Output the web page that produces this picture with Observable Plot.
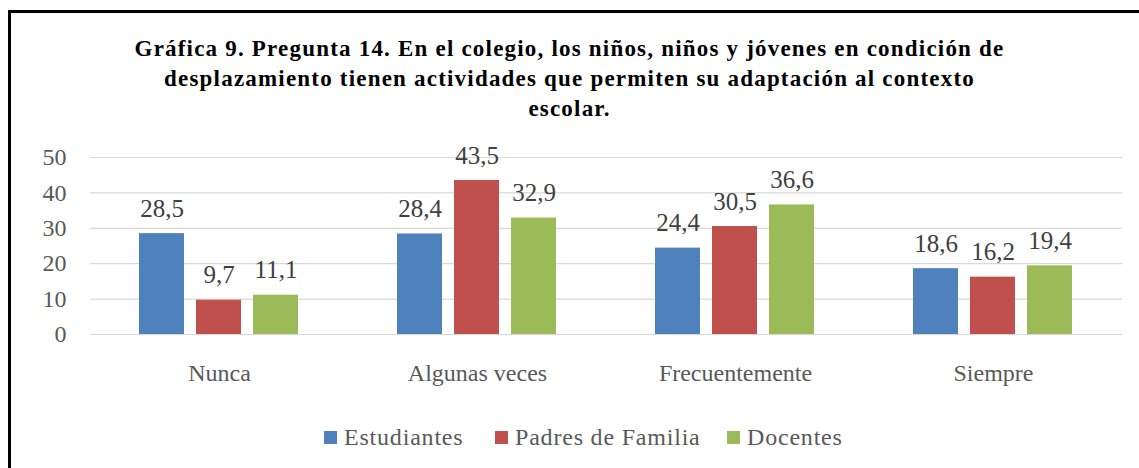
<!DOCTYPE html>
<html>
<head>
<meta charset="utf-8">
<script src="https://cdn.jsdelivr.net/npm/d3@7"></script>
<script src="https://cdn.jsdelivr.net/npm/@observablehq/plot@0.6"></script>
<style>
  html, body { margin: 0; padding: 0; background: #fff; }
  #wrap { position: relative; width: 1139px; height: 468px; overflow: hidden; background: #fff; }
  #wrap, #wrap div, #wrap span { font-family: "Liberation Serif", "Times New Roman", serif; }
  #frame { position: absolute; left: 8px; top: 10px; width: 1200px; height: 600px; border: 3px solid #000; box-sizing: border-box; }
  #title { position: absolute; left: 0; width: 1139px; top: 34px; text-align: center; font-weight: bold; font-size: 23px; line-height: 30px; letter-spacing: 1.2px; color: #000; }
  #chart { position: absolute; left: 0; top: 130px; }
  #legend { position: absolute; top: 424px; left: 0; width: 1139px; height: 26px; font-size: 24px; letter-spacing: 0.8px; color: #595959; }
  .item { position: absolute; top: 0; display: flex; align-items: center; height: 26px; white-space: nowrap; }
  .sw { width: 13px; height: 13px; margin-right: 7px; }
</style>
</head>
<body>
<div id="wrap">
  <div id="frame"></div>
  <div id="title">Gráfica 9. Pregunta 14. En el colegio, los niños, niños y jóvenes en condición de<br>desplazamiento tienen actividades que permiten su adaptación al contexto<br>escolar.</div>
  <div id="chart"></div>
  <div id="legend"></div>
</div>
<script>
const categories = ["Nunca", "Algunas veces", "Frecuentemente", "Siempre"];
const series = ["Estudiantes", "Padres de Familia", "Docentes"];
const estudiantes = [28.5, 28.4, 24.4, 18.6];
const padres = [9.7, 43.5, 30.5, 16.2];
const docentes = [11.1, 32.9, 36.6, 19.4];
const yTicks = [0, 10, 20, 30, 40, 50];
const colors = ["#4F81BD", "#C0504D", "#9BBB59"];

const seriesValues = [estudiantes, padres, docentes];
const data = [];
categories.forEach((c, i) => {
  series.forEach((s, j) => data.push({category: c, series: s, value: seriesValues[j][i]}));
});
const fmt = v => v.toFixed(1).replace(".", ",");

const plot = Plot.plot({
  width: 1139,
  height: 280,
  marginTop: 27,
  marginBottom: 76,
  marginLeft: 89,
  marginRight: 17,
  style: {fontFamily: "'Liberation Serif', 'Times New Roman', serif", fontSize: "24px", background: "transparent"},
  fx: {domain: categories, padding: 0, label: null},
  x: {domain: series, paddingInner: 0.21, paddingOuter: 0.868, axis: null},
  y: {domain: [0, 50], label: null},
  color: {domain: series, range: colors},
  marks: [
    Plot.gridY(yTicks, {stroke: "#D9D9D9", strokeOpacity: 1, strokeWidth: 1.2}),
    Plot.axisY(yTicks, {tickSize: 0, tickPadding: 24, fill: "#595959", fontSize: 24, label: null}),
    Plot.axisFx({anchor: "bottom", tickSize: 0, tickPadding: 29, fill: "#595959", fontSize: 24, label: null}),
    Plot.barY(data, {fx: "category", x: "series", y: "value", fill: "series"}),
    Plot.text(data, {fx: "category", x: "series", y: "value", text: d => fmt(d.value), lineAnchor: "bottom", dy: -17, fill: "#404040", fontSize: 25})
  ]
});
document.getElementById("chart").appendChild(plot);

const legend = document.getElementById("legend");
const lefts = [324, 495, 727];
series.forEach((s, i) => {
  const it = document.createElement("div");
  it.className = "item";
  it.style.left = lefts[i] + "px";
  const sw = document.createElement("div");
  sw.className = "sw";
  sw.style.background = colors[i];
  const tx = document.createElement("span");
  tx.textContent = s;
  it.appendChild(sw); it.appendChild(tx);
  legend.appendChild(it);
});
</script>
</body>
</html>
